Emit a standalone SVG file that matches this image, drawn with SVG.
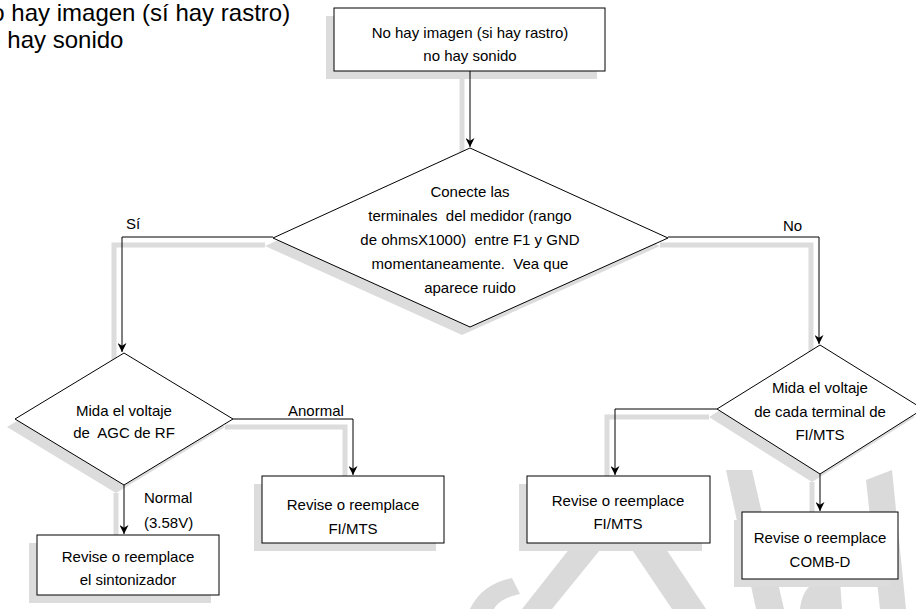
<svg xmlns="http://www.w3.org/2000/svg" width="916" height="609" viewBox="0 0 916 609" xml:space="preserve">
<defs>
<style>
text{white-space:pre}
.t{font-family:"Liberation Sans",Arial,sans-serif;font-size:15px;fill:#000;text-anchor:middle}
.l{font-family:"Liberation Sans",Arial,sans-serif;font-size:15px;fill:#000}
.big{font-family:"Liberation Sans",Arial,sans-serif;font-size:24px;fill:#000}
.shape{fill:#fff;stroke:#000;stroke-width:1}
.sh{fill:#dcdcdc;stroke:none}
.shl{fill:none;stroke:#dcdcdc;stroke-width:5}
.wm{fill:#dadada;stroke:none}
.c{fill:none;stroke:#000;stroke-width:1;marker-end:url(#arr)}
</style>
<marker id="arr" viewBox="0 0 10 10" refX="10" refY="5" markerWidth="9" markerHeight="9" markerUnits="userSpaceOnUse" orient="auto">
<path d="M0,0 L10,5 L0,10 L3,5 z" fill="#000"/>
</marker>
</defs>
<rect width="916" height="609" fill="#fff"/>

<g id="watermark">
<path class="wm" d="M470,609 C478,592 492,582 512,578 L520,594 C506,597 498,602 494,609 Z"/>
<polygon class="wm" points="522,609 552,609 604,545 578,538"/>
<polygon class="wm" points="612,520 640,510 706,609 672,609"/>
<polygon class="wm" points="726,470 752,470 784,609 756,609"/>
<path class="wm" d="M800,609 C802,590 812,580 826,580 L840,580 L842,609 Z"/>
<polygon class="wm" points="866,480 892,470 906,609 880,609"/>
</g>

<text class="big" x="-26" y="21">No hay imagen (sí hay rastro)</text>
<text class="big" x="-26" y="48">no hay sonido</text>

<g id="shadows">
<rect class="sh" x="326" y="16" width="271" height="63"/>
<polygon class="sh" points="462,156 660,246 462,335 265,246"/>
<polygon class="sh" points="116,361 225,427 116,493 7,427"/>
<polygon class="sh" points="812,353 915,417 812,482 709,417"/>
<rect class="sh" x="254" y="484" width="182" height="67"/>
<rect class="sh" x="29" y="543" width="182" height="60"/>
<rect class="sh" x="519" y="484" width="183" height="67"/>
<rect class="sh" x="734" y="520" width="156" height="67"/>
<polyline class="shl" points="462,79 462,155"/>
<polyline class="shl" points="265,245 114,245 114,360"/>
<polyline class="shl" points="660,245 811,245 811,352"/>
<polyline class="shl" points="225,427 345,427 345,484"/>
<polyline class="shl" points="116,493 116,542"/>
<polyline class="shl" points="709,417 607,417 607,484"/>
<polyline class="shl" points="812,482 812,520"/>
</g>

<g id="connectors">
<polyline class="c" points="470,71 470,147"/>
<polyline class="c" points="273,237 122,237 122,352"/>
<polyline class="c" points="668,237 819,237 819,344"/>
<polyline class="c" points="233,419 353,419 353,475"/>
<polyline class="c" points="124,485 124,534"/>
<polyline class="c" points="717,409 615,409 615,475"/>
<polyline class="c" points="820,474 820,511"/>
<text class="l" x="126" y="229">Sí</text>
<text class="l" x="783" y="231">No</text>
<text class="l" x="288" y="416">Anormal</text>
<text class="l" x="144" y="503">Normal</text>
<text class="l" x="144" y="528">(3.58V)</text>
</g>

<g id="start">
<rect class="shape" x="334" y="8" width="271" height="63"/>
<text class="t" x="470" y="38">No hay imagen (si hay rastro)</text>
<text class="t" x="470" y="61">no hay sonido</text>
</g>

<g id="dec-ruido">
<polygon class="shape" points="470,148 668,238 470,327 273,238"/>
<text class="t" x="470" y="197">Conecte las</text>
<text class="t" x="470" y="221">terminales  del medidor (rango</text>
<text class="t" x="470" y="245">de ohmsX1000)  entre F1 y GND</text>
<text class="t" x="470" y="269">momentaneamente.  Vea que</text>
<text class="t" x="470" y="293">aparece ruido</text>
</g>

<g id="dec-agc">
<polygon class="shape" points="124,353 233,419 124,485 15,419"/>
<text class="t" x="124" y="416">Mida el voltaje</text>
<text class="t" x="124" y="438">de  AGC de RF</text>
</g>

<g id="box-fimts-1">
<rect class="shape" x="262" y="476" width="182" height="67"/>
<text class="t" x="353" y="510">Revise o reemplace</text>
<text class="t" x="353" y="534">FI/MTS</text>
</g>

<g id="box-sint">
<rect class="shape" x="37" y="535" width="182" height="60"/>
<text class="t" x="128" y="562">Revise o reemplace</text>
<text class="t" x="128" y="585">el sintonizador</text>
</g>

<g id="dec-fimts">
<polygon class="shape" points="820,345 923,409 820,474 717,409"/>
<text class="t" x="820" y="393">Mida el voltaje</text>
<text class="t" x="820" y="417">de cada terminal de</text>
<text class="t" x="820" y="440">FI/MTS</text>
</g>

<g id="box-fimts-2">
<rect class="shape" x="527" y="476" width="183" height="67"/>
<text class="t" x="618" y="506">Revise o reemplace</text>
<text class="t" x="618" y="529">FI/MTS</text>
</g>

<g id="box-comb">
<rect class="shape" x="742" y="512" width="156" height="67"/>
<text class="t" x="820" y="543">Revise o reemplace</text>
<text class="t" x="820" y="567">COMB-D</text>
</g>
</svg>
